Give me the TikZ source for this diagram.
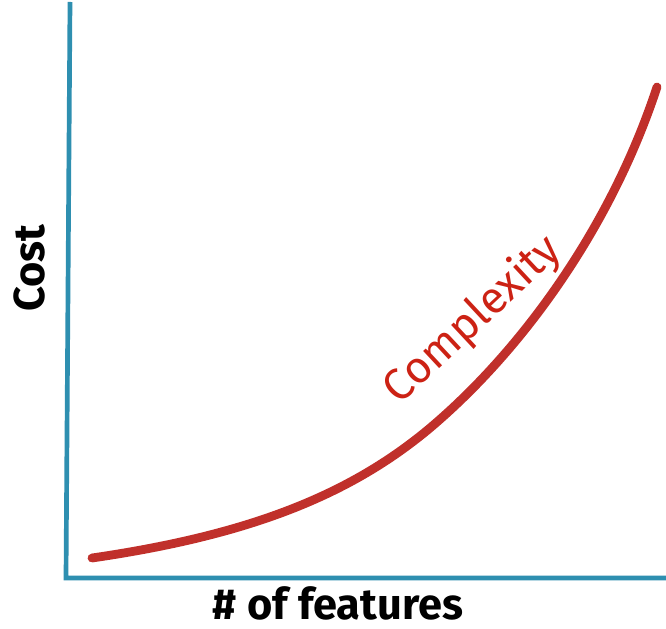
\documentclass[tikz,border=0pt]{standalone}
\usepackage{fontspec}
\setmainfont{Fira Sans}
\usepackage{tikz}
\definecolor{axisblue}{RGB}{46,143,176}
\definecolor{curvered}{RGB}{192,48,43}
\definecolor{labelred}{RGB}{204,34,20}
\tikzset{
    axisline/.style={draw=axisblue, line width=4pt, line join=miter},
    costcurve/.style={draw=curvered, line width=7.5pt, line cap=round},
    axislabel/.style={font=\fontsize{37}{40}\selectfont\bfseries, text=black, inner sep=0pt},
    curvelabel/.style={font=\fontsize{38}{40}\selectfont, text=labelred, inner sep=0pt}}

\begin{document}
\begin{tikzpicture}[x=0.03cm, y=-0.03cm]

    \useasboundingbox (0,0) rectangle (666,629);

    \coordinate (top) at (70,2);
    \coordinate (O) at (66,578);
    \coordinate (right) at (666,578);

    \draw[axisline] (top) -- (O) -- (right);

    \coordinate (start) at (92,558);
    \coordinate (mid) at (430,428);
    \coordinate (end) at (657,87);
    \draw[costcurve] (start) .. controls (250,535) and (350,495) .. (mid)
        .. controls (520,352) and (610,230) .. (end);

    \node[curvelabel, rotate=43] (complexity) at (473,320) {Complexity};
    \node[axislabel, rotate=90] (cost) at (29,268) {Cost};
    \node[axislabel] (features) at (338,603) {\# of features};

\end{tikzpicture}
\end{document}
